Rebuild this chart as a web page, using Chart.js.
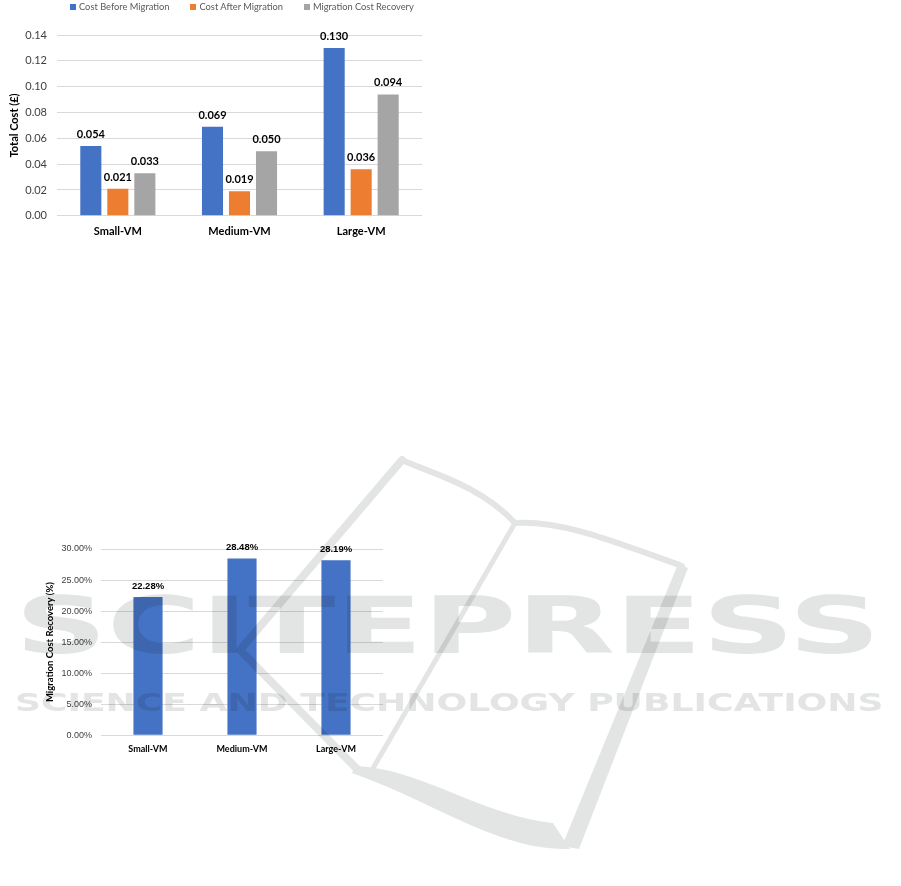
<!DOCTYPE html>
<html>
<head>
<meta charset="utf-8">
<script src="https://cdn.jsdelivr.net/npm/chart.js@4.4.1/dist/chart.umd.min.js"></script>
<style>
    body { margin: 0; background: #fff; width: 901px; height: 886px; position: relative; overflow: hidden; font-family: Lato, sans-serif; }
    #wrap1 { position: absolute; left: 0; top: 0; }
    #wrap2 { position: absolute; left: 36px; top: 520px; }
    #legend { position: absolute; top: 1px; left: 70px; display: flex; font-size: 9.3px; color: #595959; line-height: 12px; }
    #legend span.item { display: flex; align-items: center; margin-right: 21px; }
    #legend span.box { width: 6px; height: 6px; margin-right: 3px; }
    #mark { position: absolute; left: 0; top: 0; width: 901px; height: 886px; pointer-events: none; mix-blend-mode: multiply; }
    .wm { position: absolute; left: 15px; white-space: nowrap; color: #e3e4e4; font-family: "DejaVu Sans", sans-serif; font-weight: bold; line-height: 1; transform-origin: left top; mix-blend-mode: multiply; pointer-events: none; }
</style>
</head>
<body>
<div id="wrap1"><canvas id="costChart" width="440" height="245"></canvas></div>
<div id="legend"></div>
<div id="wrap2"><canvas id="recoveryChart" width="384" height="240"></canvas></div>

<svg id="mark" viewBox="0 0 901 886">
    <g fill="none" stroke="#e3e4e4" stroke-linecap="round" stroke-linejoin="round">
        <path d="M402 460 C 430 473, 480 485, 515 523" stroke-width="6"/>
        <path d="M515 523 C 560 520, 610 540, 682 566" stroke-width="6"/>
        <path d="M402 460 L 240 650 L 358 770" stroke-width="8"/>
        <path d="M515 523 L 372 770" stroke-width="5"/>
    </g>
    <g fill="#e3e4e4">
        <path d="M678 564 L 688 568 L 579 849 L 562 846 Z"/>
        <path d="M355 766 C 420 768, 480 815, 553 823 L 570 849 C 500 852, 430 800, 352 773 Z"/>
    </g>
</svg>
<div class="wm" id="wm1" style="top:587px;font-size:78px" data-w="865">SCITEPRESS</div>
<div class="wm" id="wm2" style="top:690px;font-size:25px" data-w="868">SCIENCE AND TECHNOLOGY PUBLICATIONS</div>

<script>
// first chart: total cost per VM size
const vmSizes = ['Small-VM', 'Medium-VM', 'Large-VM'];
const seriesNames = ['Cost Before Migration', 'Cost After Migration', 'Migration Cost Recovery'];
const costBefore = [0.054, 0.069, 0.130];
const costAfter = [0.021, 0.019, 0.036];
const costRecovery = [0.033, 0.050, 0.094];
const seriesColors = ['#4472C4', '#ED7D31', '#A5A5A5'];

// second chart: recovery in percent
const recoveryPercent = [22.28, 28.48, 28.19];

const gridColor = '#d9d9d9';
const tickColor = '#404040';

// draws the value on top of each bar
const makeValueLabels = (id, format, font, offset) => ({
    id: id,
    afterDatasetsDraw(chart) {
        const ctx = chart.ctx;
        ctx.save();
        ctx.font = font;
        ctx.fillStyle = '#000';
        ctx.textAlign = 'center';
        ctx.textBaseline = 'bottom';
        chart.data.datasets.forEach((ds, i) => {
            chart.getDatasetMeta(i).data.forEach((bar, j) => {
                ctx.fillText(format(ds.data[j]), bar.x, bar.y - offset);
            });
        });
        ctx.restore();
    }
});

const showLegend = () => {
    const legend = document.getElementById('legend');
    seriesNames.forEach((name, i) => {
        const item = document.createElement('span');
        item.className = 'item';
        item.innerHTML = `<span class="box" style="background:${seriesColors[i]}"></span>${name}`;
        legend.appendChild(item);
    });
};

const costChart = () => {
    const values = [costBefore, costAfter, costRecovery];
    const ctx = document.getElementById('costChart').getContext('2d');
    new Chart(ctx, {
        type: 'bar',
        data: {
            labels: vmSizes,
            datasets: seriesNames.map((name, i) => ({
                label: name,
                data: values[i],
                backgroundColor: seriesColors[i],
                categoryPercentage: 0.666,
                barPercentage: 0.78
            }))
        },
        options: {
            responsive: false,
            animation: false,
            layout: { padding: { top: 35, right: 18, left: 0, bottom: 6 } },
            plugins: { legend: { display: false }, tooltip: { enabled: false } },
            scales: {
                x: {
                    grid: { display: false },
                    border: { display: false },
                    ticks: { color: '#000', padding: 1, font: { family: 'Lato', size: 11, weight: 'bold' } }
                },
                y: {
                    min: 0,
                    max: 0.14,
                    afterFit: (axis) => { axis.width = 57; },
                    grid: { color: gridColor, drawTicks: false },
                    border: { display: false },
                    ticks: {
                        stepSize: 0.02,
                        padding: 10,
                        color: tickColor,
                        font: { family: 'Lato', size: 11 },
                        callback: (v) => v.toFixed(2)
                    },
                    title: {
                        display: true,
                        text: 'Total Cost (£)',
                        color: '#000',
                        padding: { top: 8, bottom: 0 },
                        font: { family: 'Lato', size: 11, weight: 'bold' }
                    }
                }
            }
        },
        plugins: [makeValueLabels('costLabels', (v) => v.toFixed(3), 'bold 11px Lato', 6)]
    });
};

const recoveryChart = () => {
    const ctx = document.getElementById('recoveryChart').getContext('2d');
    new Chart(ctx, {
        type: 'bar',
        data: {
            labels: vmSizes,
            datasets: [{
                label: 'Migration Cost Recovery (%)',
                data: recoveryPercent,
                backgroundColor: seriesColors[0],
                categoryPercentage: 0.62,
                barPercentage: 0.5
            }]
        },
        options: {
            responsive: false,
            animation: false,
            layout: { padding: { top: 29, right: 37, left: 0, bottom: 6 } },
            plugins: { legend: { display: false }, tooltip: { enabled: false } },
            scales: {
                x: {
                    grid: { display: false },
                    border: { display: false },
                    ticks: { color: '#000', padding: 0, font: { family: 'Lato', size: 9, weight: 'bold' } }
                },
                y: {
                    min: 0,
                    max: 30,
                    afterFit: (axis) => { axis.width = 65; },
                    grid: { color: gridColor, drawTicks: false },
                    border: { display: false },
                    ticks: {
                        stepSize: 5,
                        padding: 9,
                        color: tickColor,
                        font: { family: 'Liberation Sans', size: 9 },
                        callback: (v) => v.toFixed(2) + '%'
                    },
                    title: {
                        display: true,
                        text: 'Migration Cost Recovery (%)',
                        color: '#000',
                        padding: { top: 8, bottom: 0 },
                        font: { family: 'Lato', size: 9.5, weight: 'bold' }
                    }
                }
            }
        },
        plugins: [makeValueLabels('recoveryLabels', (v) => v.toFixed(2) + '%', 'bold 9.5px "Liberation Sans"', 6)]
    });
};

// stretch the watermark text to its width
const fitWatermark = () => {
    document.querySelectorAll('.wm').forEach((el) => {
        const target = Number(el.dataset.w);
        el.style.transform = `scaleX(${target / el.offsetWidth})`;
    });
};

const main = () => {
    showLegend();
    costChart();
    recoveryChart();
    fitWatermark();
};

main();
</script>
</body>
</html>
